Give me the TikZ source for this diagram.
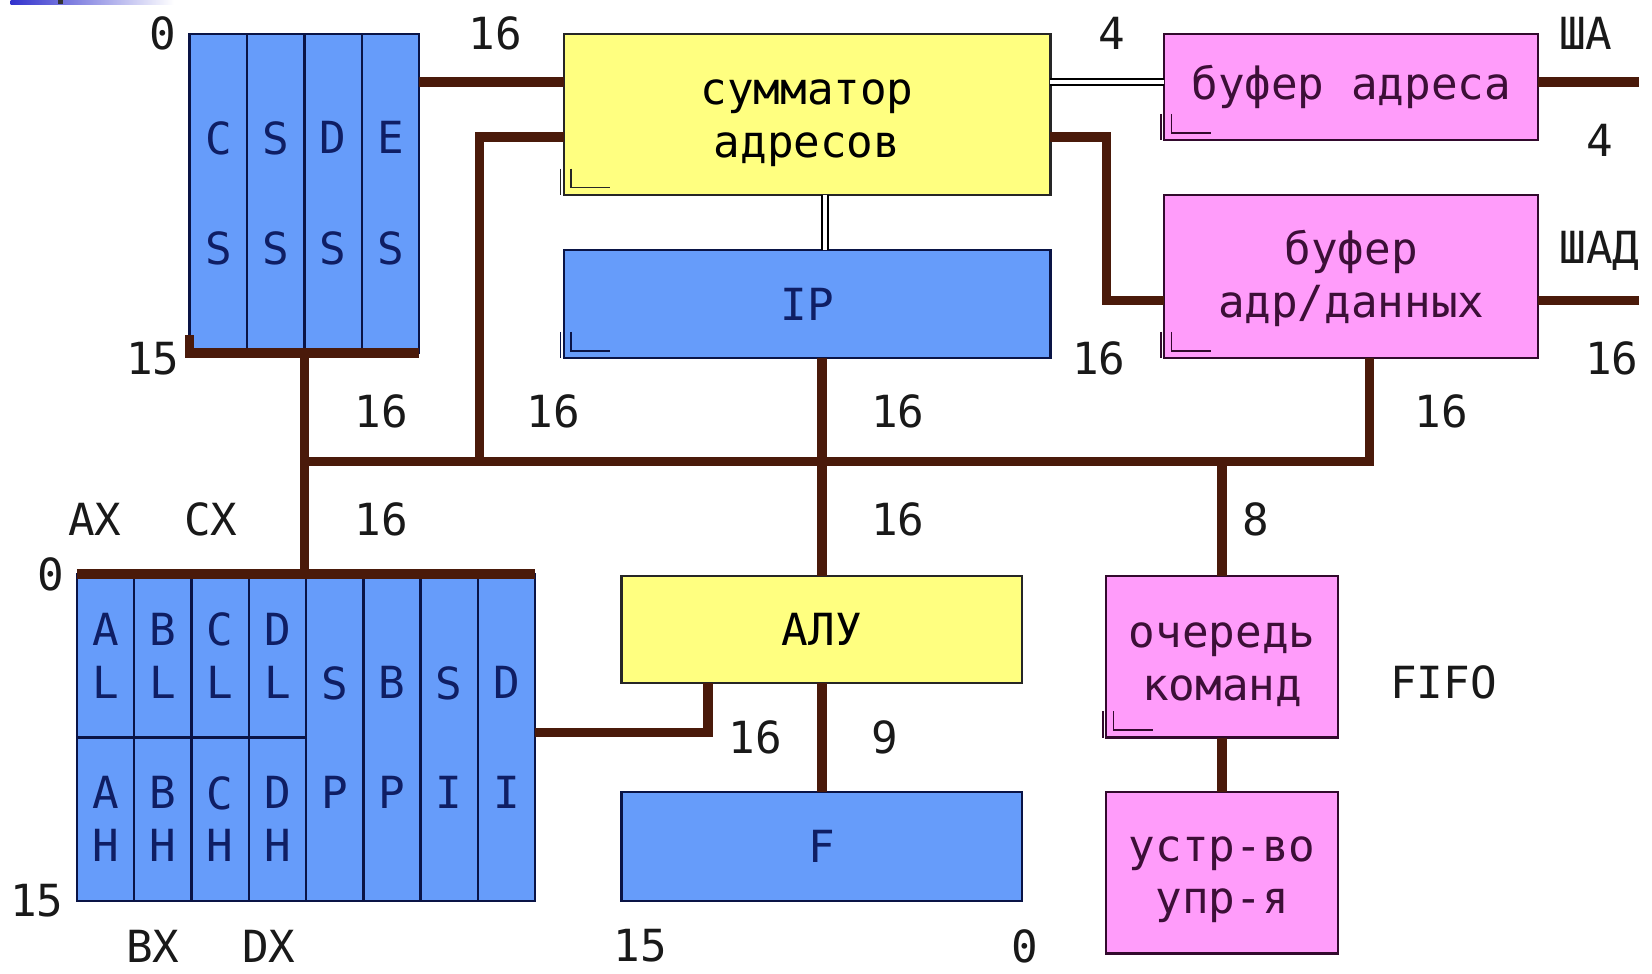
\documentclass[tikz,border=0pt]{standalone}
\usepackage{fontspec}
\newfontfamily\pix{DejaVu Sans Mono}
\usetikzlibrary{calc}
\definecolor{brn}{RGB}{74,26,10}
\definecolor{bfill}{RGB}{102,156,250}
\definecolor{bline}{RGB}{10,20,70}
\definecolor{yfill}{RGB}{255,255,128}
\definecolor{pfill}{RGB}{255,156,250}
\definecolor{pline}{RGB}{50,10,45}
\definecolor{ptext}{RGB}{60,15,55}
\definecolor{ntext}{RGB}{15,30,100}
\definecolor{ltext}{RGB}{25,25,25}
\definecolor{topblue}{RGB}{50,50,205}
\newcommand{\twoline}[3]{\raisebox{#1}[\height][\depth]{\begin{tabular}{@{}c@{}}#2\\#3\end{tabular}}}
\begin{document}
\begin{tikzpicture}[x=1pt,y=-1pt,
  box/.style={draw, line width=2.2pt, inner sep=0pt, outer sep=0pt, anchor=north west, align=center, font=\pix\fontsize{42}{50}\selectfont},
  bluebox/.style={box, draw=bline, fill=bfill, text=ntext},
  yelbox/.style={box, draw=black!85, fill=yfill, text=black},
  pinkbox/.style={box, draw=pline, fill=pfill, text=ptext},
  frame/.style={draw=bline, line width=2.2pt, inner sep=0pt, outer sep=0pt, anchor=north west},
  lbl/.style={font=\pix\fontsize{42}{50}\selectfont, text=ltext, inner sep=0pt},
  bus/.style={draw=brn, line width=9pt, line join=miter},
  dbl/.style={draw=black, line width=2pt, double=white, double distance=4pt},
  grip/.style={line width=1.6pt},
]
\useasboundingbox[fill=white] (0,0) rectangle (1568,924);
% slide remnant at top left
\shade[left color=topblue, right color=white] (10,0) rectangle (165,4);
\fill[black!80] (55,0) rectangle (60,4);

% ---- segment registers
\foreach \t/\b [count=\i from 0] in {C/S,S/S,D/S,E/S}
  \node[bluebox, minimum width=54.5, minimum height=303] (ss\i) at (180+54.5*\i,32) {\t\\[55pt]\b};
\node[frame, minimum width=218, minimum height=303] (ss) at (180,32) {};

% ---- general registers
\foreach \t/\b [count=\i from 0] in {A/L,B/L,C/L,D/L}
  \node[bluebox, minimum width=54.375, minimum height=155] (rt\i) at (73+54.375*\i,545) {\t\\\b};
\foreach \t/\b [count=\i from 0] in {A/H,B/H,C/H,D/H}
  \node[bluebox, minimum width=54.375, minimum height=155] (rb\i) at (73+54.375*\i,700) {\t\\\b};
\foreach \t/\b [count=\i from 4] in {S/P,B/P,S/I,D/I}
  \node[bluebox, minimum width=54.375, minimum height=310] (rr\i) at (73+54.375*\i,545) {\t\\[54pt]\b};
\node[frame, minimum width=435, minimum height=310] (reg) at (73,545) {};

% ---- other blocks
\node[yelbox, minimum width=462, minimum height=153] (sum) at (535,32) {\twoline{-6pt}{сумматор}{адресов}};
\node[bluebox, minimum width=462, minimum height=103] (ip) at (535,237) {IP};
\node[pinkbox, minimum width=355, minimum height=101] (bufA) at (1105,32) {буфер адреса};
\node[pinkbox, minimum width=355, minimum height=155] (bufD) at (1105,185) {\twoline{-4pt}{буфер}{адр/данных}};
\node[yelbox, minimum width=380, minimum height=101] (alu) at (590,547) {АЛУ};
\node[bluebox, minimum width=380, minimum height=103] (flg) at (590,752) {F};
\node[pinkbox, minimum width=220, minimum height=153] (que) at (1050,547) {\twoline{-6pt}{очередь}{команд}};
\node[pinkbox, minimum width=220, minimum height=153] (cu) at (1050,752) {\twoline{-4pt}{устр-во}{упр-я}};

% ---- grips (small corner marks)
\foreach \n/\c in {sum/black!85,ip/bline,bufA/pline,bufD/pline,que/pline}{
  \draw[grip,draw=\c] ([shift={(7pt,25pt)}]\n.south west) |- ([shift={(44pt,7pt)}]\n.south west);
  \draw[grip,draw=\c] ([shift={(-3pt,25pt)}]\n.south west) -- ([shift={(-3pt,0pt)}]\n.south west);
}

% ---- attach points
\coordinate (busy) at (0,438);
\coordinate (sA) at ([yshift=-46pt]sum.north west);
\coordinate (sB) at ([yshift=-98pt]sum.north west);
\coordinate (sC) at ([yshift=-46pt]sum.north east);
\coordinate (sD) at ([yshift=-98pt]sum.north east);
\coordinate (bD) at ([yshift=-100pt]bufD.north west);
\coordinate (bDs) at ([xshift=17.5pt]bufD.south);
\coordinate (rE) at ([yshift=-150pt]reg.north east);
\coordinate (aS) at ([xshift=-108pt]alu.south);
\coordinate (shA) at ([xshift=96pt]bufA.east |- sC);
\coordinate (shD) at ([xshift=96pt]bufD.east |- bD);

% ---- buses
\draw[bus] ([yshift=17pt]ss.south west) -- (ss.south west) -- (ss.south east);
\draw[bus] (reg.north west) -- (reg.north east);
\draw[bus] (ss.east |- sA) -- (sA);
\draw[bus] (ss.south) -- (ss.south |- reg.north);
\draw[bus] (sB) -- ++(-80,0) coordinate (k1) -- (k1 |- busy);
\draw[bus] (ss.south |- busy) -- (bDs |- busy) -- (bDs);
\draw[bus] (alu.north |- ip.south) -- (alu.north);
\draw[bus] (que.north |- busy) -- (que.north);
\draw[bus] (que.south) -- (cu.north);
\draw[bus] (alu.south) -- (flg.north);
\draw[bus] (rE) -| (aS);
\draw[bus] (sD) -- ++(53,0) |- (bD);
\draw[bus] (bufA.east |- sC) -- (shA);
\draw[bus] (bufD.east |- bD) -- (shD);
\draw[dbl] (sC) -- (bufA.west |- sC);
\draw[dbl] ([xshift=17pt]sum.south) -- ([xshift=17pt]ip.north);

% ---- labels
\node[lbl] (t0) at (155,32) {0};
\node[lbl] (t1) at (470,32) {16};
\node[lbl] (t2) at (1055,32) {4};
\node[lbl] (t3) at (1505,32) {ША};
\node[lbl] (t4) at (145,340) {15};
\node[lbl] (t5) at (1043,340) {16};
\node[lbl] (t6) at (1518,133) {4};
\node[lbl] (t7) at (1518,238) {ШАД};
\node[lbl] (t8) at (1530,340) {16};
\node[lbl] (t9) at (362,390) {16};
\node[lbl] (t10) at (525,390) {16};
\node[lbl] (t11) at (852,390) {16};
\node[lbl] (t12) at (1368,390) {16};
\node[lbl] (t13) at (90,493) {AX};
\node[lbl] (t14) at (200,493) {CX};
\node[lbl] (t15) at (362,493) {16};
\node[lbl] (t16) at (852,493) {16};
\node[lbl] (t17) at (1192,493) {8};
\node[lbl] (t18) at (48,545) {0};
\node[lbl] (t19) at (35,855) {15};
\node[lbl] (t20) at (717,700) {16};
\node[lbl] (t21) at (840,700) {9};
\node[lbl] (t22) at (1370,648) {FIFO};
\node[lbl] (t23) at (145,898) {BX};
\node[lbl] (t24) at (255,898) {DX};
\node[lbl] (t25) at (608,898) {15};
\node[lbl] (t26) at (973,898) {0};
\end{tikzpicture}
\end{document}
